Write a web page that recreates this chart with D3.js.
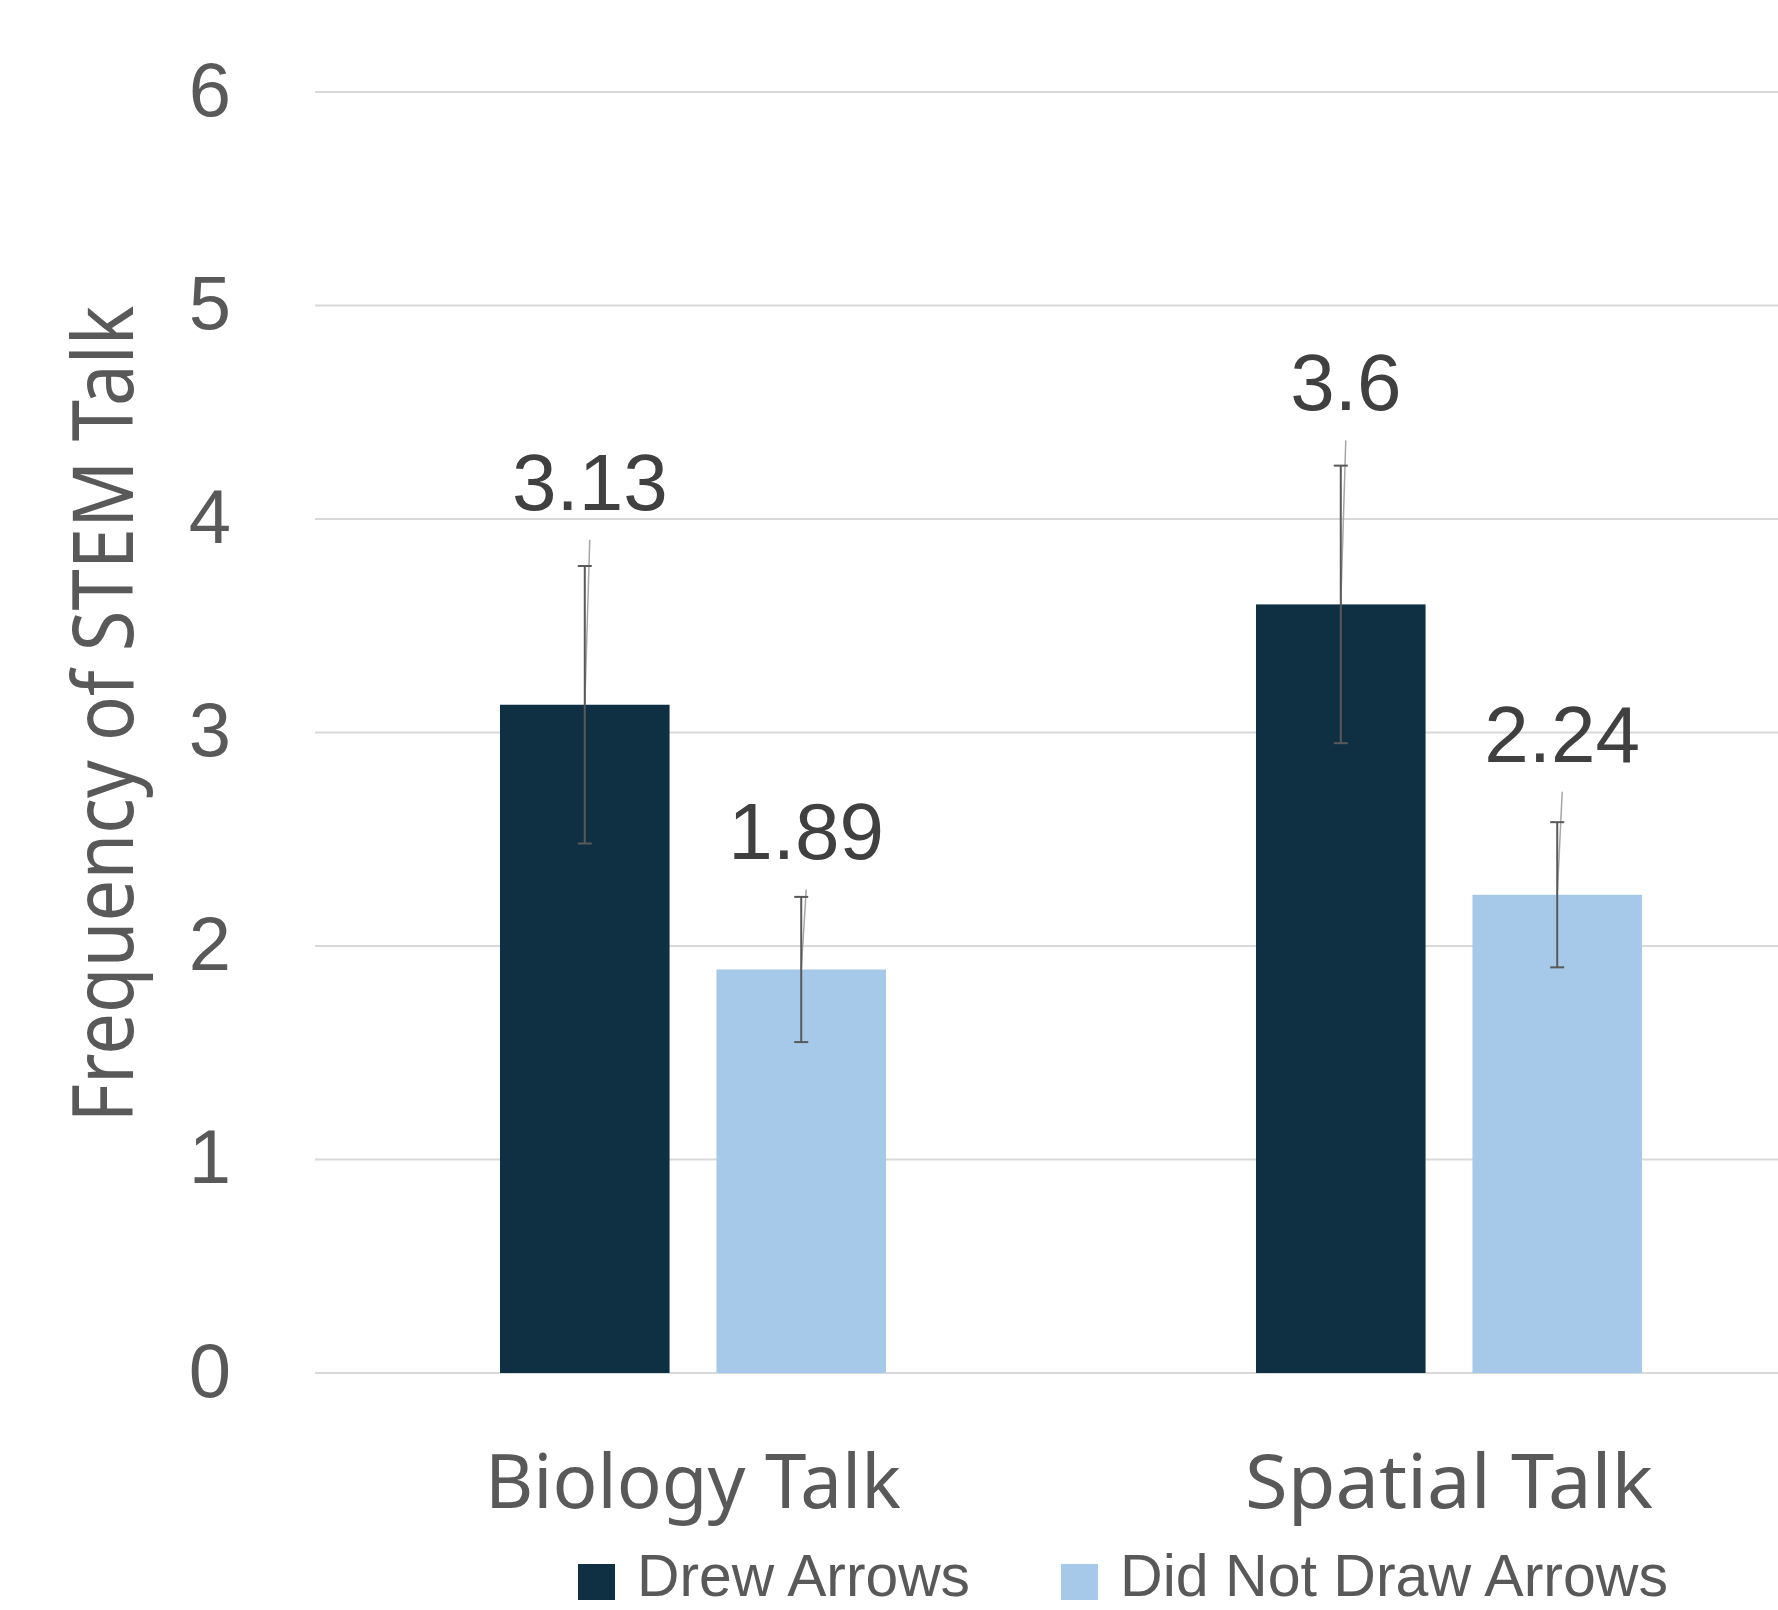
<!DOCTYPE html>
<html>
<head>
<meta charset="utf-8">
<script src="https://cdn.jsdelivr.net/npm/d3@7"></script>
<style>
  html, body { margin: 0; padding: 0; background: #fff; }
  svg { display: block; }
</style>
</head>
<body>
<div id="chart"></div>
<script>
// ---- data ----
const categories = ["Biology Talk", "Spatial Talk"];
const seriesNames = ["Drew Arrows", "Did Not Draw Arrows"];
const drewArrows = [3.13, 3.6];
const didNotDrawArrows = [1.89, 2.24];
const drewArrowsErr = [0.65, 0.65];
const didNotDrawArrowsErr = [0.34, 0.34];
const yTicks = [0, 1, 2, 3, 4, 5, 6];

// ---- layout ----
const W = 1778, H = 1610;
const colors = ["#0E3042", "#A6C9EA"];
// pixel lift of each data label above its bar top, [category][series]
const labelLift = [[195, 110], [194, 133]];

const svg = d3.select("#chart").append("svg").attr("width", W).attr("height", H);

const y = d3.scaleLinear().domain([0, 6]).range([1373, 92]);
const x0 = d3.scaleBand().domain(categories).range([315, 1827]).paddingInner(0.4894).paddingOuter(0.2447);
const x1 = d3.scaleBand().domain(seriesNames).range([0, x0.bandwidth()]).paddingInner(0.2166);

// gridlines
svg.append("g").selectAll("line").data(yTicks).join("line")
  .attr("x1", 315).attr("x2", W)
  .attr("y1", d => y(d)).attr("y2", d => y(d))
  .attr("stroke", "#D9D9D9").attr("stroke-width", 2);

// y tick labels
svg.append("g").selectAll("text").data(yTicks).join("text")
  .attr("x", 210).attr("y", d => y(d)).attr("dy", "0.31em")
  .attr("text-anchor", "middle")
  .attr("font-family", "'Liberation Sans', Arial, sans-serif")
  .attr("font-size", 76).attr("fill", "#595959")
  .text(d => d);

// y axis title
svg.append("text")
  .attr("transform", "translate(133,714) rotate(-90)")
  .attr("text-anchor", "middle")
  .attr("font-family", "'Noto Sans', sans-serif")
  .attr("font-size", 84).attr("fill", "#595959")
  .attr("textLength", 817).attr("lengthAdjust", "spacingAndGlyphs")
  .text("Frequency of STEM Talk");

const rows = [];
categories.forEach((c, i) => {
  rows.push({cat: c, ci: i, s: seriesNames[0], si: 0, v: drewArrows[i], e: drewArrowsErr[i]});
  rows.push({cat: c, ci: i, s: seriesNames[1], si: 1, v: didNotDrawArrows[i], e: didNotDrawArrowsErr[i]});
});

const bx = d => x0(d.cat) + x1(d.s);
const cx = d => bx(d) + x1.bandwidth() / 2;

// bars
svg.append("g").selectAll("rect").data(rows).join("rect")
  .attr("x", bx).attr("width", x1.bandwidth())
  .attr("y", d => y(d.v)).attr("height", d => y(0) - y(d.v))
  .attr("fill", d => colors[d.si]);

// leader lines
const labelX = d => cx(d) + 5;
const labelY = d => y(d.v) - labelLift[d.ci][d.si];
svg.append("g").selectAll("line").data(rows).join("line")
  .attr("x1", cx).attr("y1", d => y(d.v))
  .attr("x2", labelX).attr("y2", d => labelY(d) + 30)
  .attr("stroke", "#A6A6A6").attr("stroke-width", 1.5);

// error bars
const eg = svg.append("g").attr("stroke", "#595959").attr("stroke-width", 2);
rows.forEach(d => {
  const x = cx(d);
  eg.append("line").attr("x1", x).attr("x2", x).attr("y1", y(d.v + d.e)).attr("y2", y(d.v - d.e));
  eg.append("line").attr("x1", x - 7).attr("x2", x + 7).attr("y1", y(d.v + d.e)).attr("y2", y(d.v + d.e));
  eg.append("line").attr("x1", x - 7).attr("x2", x + 7).attr("y1", y(d.v - d.e)).attr("y2", y(d.v - d.e));
});

// data labels
svg.append("g").selectAll("text").data(rows).join("text")
  .attr("x", labelX).attr("y", labelY)
  .attr("text-anchor", "middle")
  .attr("font-family", "'Liberation Sans', Arial, sans-serif")
  .attr("font-size", 80).attr("fill", "#404040")
  .text(d => d.v);

// category labels
svg.append("g").selectAll("text").data(categories).join("text")
  .attr("x", d => x0(d) + x0.bandwidth() / 2).attr("y", 1508)
  .attr("text-anchor", "middle")
  .attr("font-family", "'Noto Sans', sans-serif")
  .attr("font-size", 75).attr("fill", "#595959")
  .attr("textLength", d => d === "Biology Talk" ? 416 : 408).attr("lengthAdjust", "spacingAndGlyphs")
  .text(d => d);

// legend
const legendX = [578, 1061];
const legendTextLen = [333, 548];
const lg = svg.append("g");
seriesNames.forEach((s, i) => {
  lg.append("rect").attr("x", legendX[i]).attr("y", 1564).attr("width", 37).attr("height", 36).attr("fill", colors[i]);
  lg.append("text").attr("x", legendX[i] + 59).attr("y", 1596)
    .attr("font-family", "'Liberation Sans', Arial, sans-serif")
    .attr("font-size", 60).attr("fill", "#595959")
    .attr("textLength", legendTextLen[i]).attr("lengthAdjust", "spacingAndGlyphs")
    .text(s);
});
</script>
</body>
</html>
